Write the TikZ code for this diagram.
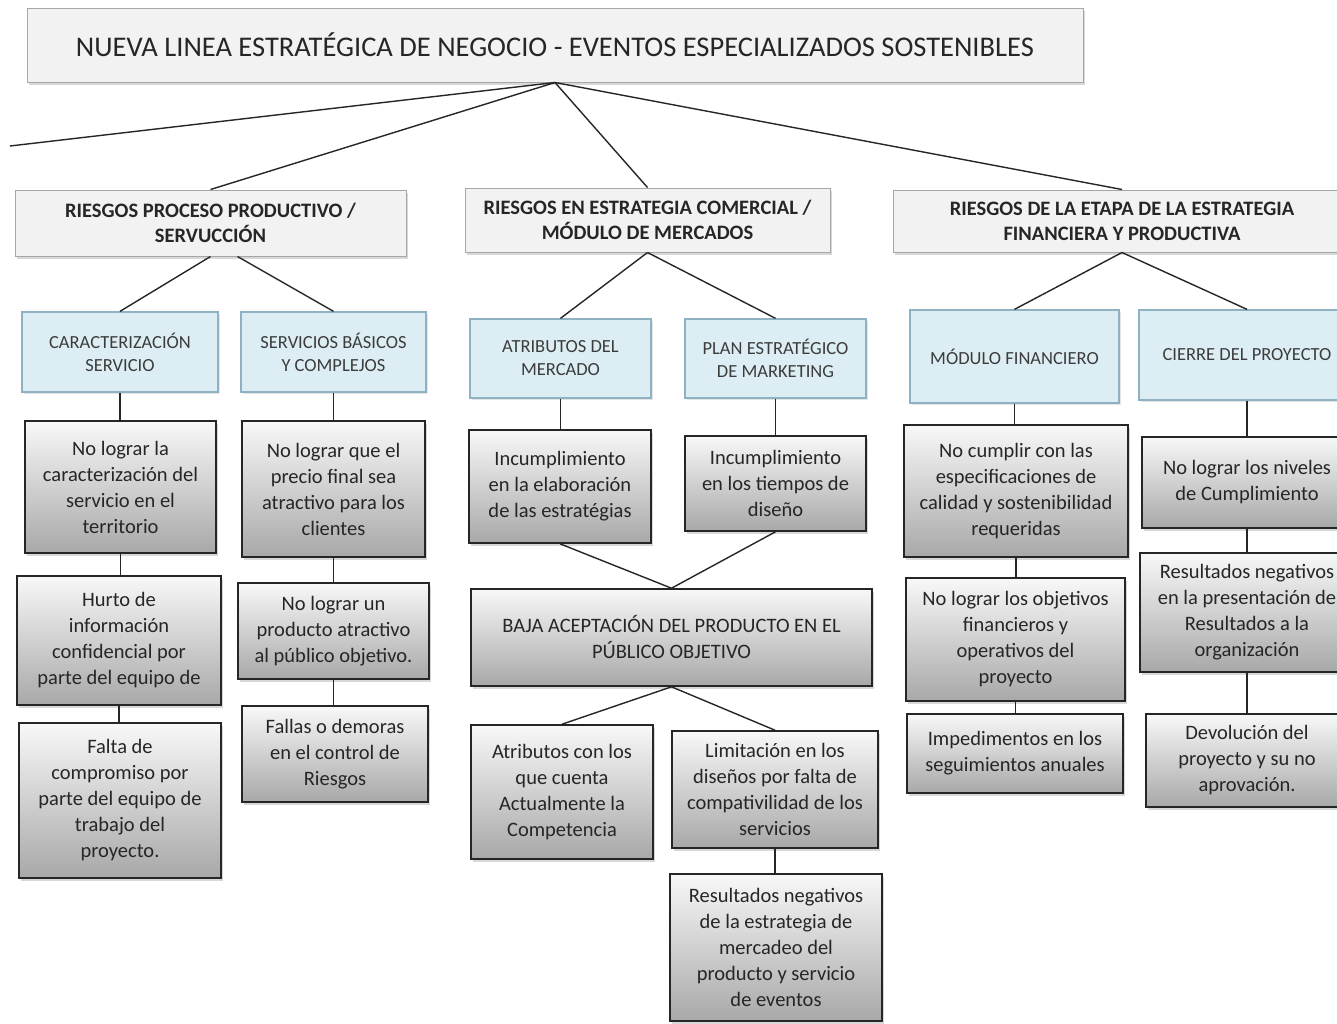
\documentclass[tikz,border=0pt]{standalone}
\usepackage{fontspec}
\setmainfont{Carlito}
\usetikzlibrary{shadows}

\definecolor{hdrfill}{HTML}{F2F2F2}
\definecolor{hdrline}{HTML}{A6A6A6}
\definecolor{blufill}{HTML}{DCEEF4}
\definecolor{bluline}{HTML}{8FB1C4}
\definecolor{grytop}{HTML}{F8F8F8}
\definecolor{grybot}{HTML}{A8A8A8}
\definecolor{ink}{HTML}{262626}
\definecolor{softink}{HTML}{3C3C3C}

% box placed from its corner coordinates: name, style, x1, y1, x2, y2, text
\newcommand{\bx}[7]{%
  \node[#2, minimum width={(#5)-(#3)}, minimum height={(#6)-(#4)}]
    (#1) at ({((#3)+(#5))/2},{((#4)+(#6))/2}) {#7};}

\tikzset{
  basebox/.style={rectangle, inner sep=0pt, align=center, text=ink},
  titlebox/.style={basebox, fill=hdrfill, draw=hdrline, line width=1pt,
    drop shadow={shadow xshift=1.5pt, shadow yshift=-2.5pt, opacity=0.3},
    font=\fontsize{28.5}{32}\selectfont},
  hdrbox/.style={basebox, fill=hdrfill, draw=hdrline, line width=1pt,
    drop shadow={shadow xshift=1.5pt, shadow yshift=-2.5pt, opacity=0.3},
    font=\fontsize{20.5}{25}\selectfont\bfseries},
  blubox/.style={basebox, fill=blufill, draw=bluline, line width=1.3pt,
    drop shadow={shadow xshift=1.5pt, shadow yshift=-2pt, opacity=0.2},
    text=softink, font=\fontsize{18.5}{23}\selectfont},
  grybox/.style={basebox, top color=grytop, bottom color=grybot, draw=ink,
    line width=1.6pt,
    drop shadow={shadow xshift=1.5pt, shadow yshift=-2.5pt, opacity=0.3},
    font=\fontsize{20.5}{26}\selectfont},
  link/.style={draw=ink, line width=1.4pt},
}

\begin{document}
\begin{tikzpicture}[x=1pt, y=-1pt]
\useasboundingbox (0,0) rectangle (1337,1023);
\clip (0,0) rectangle (1337,1023);
\fill[white] (0,0) rectangle (1337,1023);

% ---- boxes ----
\bx{top}{titlebox}{27}{8}{1083}{82}{NUEVA LINEA ESTRATÉGICA DE NEGOCIO - EVENTOS ESPECIALIZADOS SOSTENIBLES}

\bx{L1}{hdrbox}{15}{190}{406}{256}{RIESGOS PROCESO PRODUCTIVO /\\SERVUCCIÓN}
\bx{M1}{hdrbox}{465}{188}{830}{252}{RIESGOS EN ESTRATEGIA COMERCIAL /\\MÓDULO DE MERCADOS}
\bx{R1}{hdrbox}{893}{190}{1351}{252}{RIESGOS DE LA ETAPA DE LA ESTRATEGIA\\FINANCIERA Y PRODUCTIVA}

\bx{B1}{blubox}{22}{312}{218}{392}{CARACTERIZACIÓN\\SERVICIO}
\bx{B2}{blubox}{241}{312}{426}{392}{SERVICIOS BÁSICOS\\Y COMPLEJOS}
\bx{B3}{blubox}{470}{319}{651}{398}{ATRIBUTOS DEL\\MERCADO}
\bx{B4}{blubox}{685}{319}{866}{398}{PLAN ESTRATÉGICO\\DE MARKETING}
\bx{B5}{blubox}{910}{310}{1119}{403}{MÓDULO FINANCIERO}
\bx{B6}{blubox}{1139}{310}{1355}{400}{CIERRE DEL PROYECTO}

\bx{G1}{grybox}{25}{421}{216}{553}{No lograr la\\caracterización del\\servicio en el\\territorio}
\bx{G2}{grybox}{17}{576}{221}{705}{Hurto de\\información\\confidencial por\\parte del equipo de}
\bx{G3}{grybox}{19}{723}{221}{878}{Falta de\\compromiso por\\parte del equipo de\\trabajo del\\proyecto.}

\bx{G4}{grybox}{242}{421}{425}{557}{No lograr que el\\precio final sea\\atractivo para los\\clientes}
\bx{G5}{grybox}{238}{583}{429}{679}{No lograr un\\producto atractivo\\al público objetivo.}
\bx{G6}{grybox}{242}{706}{428}{802}{Fallas o demoras\\en el control de\\Riesgos}

\bx{G7}{grybox}{469}{430}{651}{543}{Incumplimiento\\en la elaboración\\de las estratégias}
\bx{G8}{grybox}{685}{436}{866}{531}{Incumplimiento\\en los tiempos de\\diseño}
\bx{BAJA}{grybox}{471}{589}{872}{686}{BAJA ACEPTACIÓN DEL PRODUCTO EN EL\\PÚBLICO OBJETIVO}
\bx{G9}{grybox}{471}{725}{653}{859}{Atributos con los\\que cuenta\\Actualmente la\\Competencia}
\bx{G10}{grybox}{672}{731}{878}{848}{Limitación en los\\diseños por falta de\\compativilidad de los\\servicios}
\bx{G11}{grybox}{670}{874}{882}{1021}{Resultados negativos\\de la estrategia de\\mercadeo del\\producto y servicio\\de eventos}

\bx{G12}{grybox}{904}{425}{1128}{557}{No cumplir con las\\especificaciones de\\calidad y sostenibilidad\\requeridas}
\bx{G13}{grybox}{906}{578}{1125}{701}{No lograr los objetivos\\financieros y\\operativos del\\proyecto}
\bx{G14}{grybox}{907}{714}{1123}{793}{Impedimentos en los\\seguimientos anuales}

\bx{G15}{grybox}{1142}{437}{1352}{528}{No lograr los niveles\\de Cumplimiento}
\bx{G16}{grybox}{1140}{553}{1354}{672}{Resultados negativos\\en la presentación de\\Resultados a la\\organización}
\bx{G17}{grybox}{1146}{714}{1348}{807}{Devolución del\\proyecto y su no\\aprovación.}

% ---- connectors ----
\coordinate (offleft) at (10,146);
\draw[link] (top.south) -- (offleft);
\draw[link] (top.south) -- (L1.north);
\draw[link] (top.south) -- (M1.north);
\draw[link] (top.south) -- (R1.north);

\draw[link] (L1.south) -- (B1.north);
\draw[link] ([xshift=27pt]L1.south) -- (B2.north);
\draw[link] (M1.south) -- (B3.north);
\draw[link] (M1.south) -- (B4.north);
\draw[link] (R1.south) -- (B5.north);
\draw[link] (R1.south) -- (B6.north);

\draw[link] (B1.south) -- (B1.south |- G1.north);
\draw[link] (G1.south) -- (G1.south |- G2.north);
\draw[link] (G2.south) -- (G2.south |- G3.north);

\draw[link] (B2.south) -- (B2.south |- G4.north);
\draw[link] (G4.south) -- (G4.south |- G5.north);
\draw[link] (G5.south) -- (G5.south |- G6.north);

\draw[link] (B3.south) -- (B3.south |- G7.north);
\draw[link] (B4.south) -- (B4.south |- G8.north);
\draw[link] (G7.south) -- (BAJA.north);
\draw[link] (G8.south) -- (BAJA.north);
\draw[link] (BAJA.south) -- (G9.north);
\draw[link] (BAJA.south) -- (G10.north);
\draw[link] (G10.south) -- (G10.south |- G11.north);

\draw[link] (B5.south) -- (B5.south |- G12.north);
\draw[link] (G12.south) -- (G12.south |- G13.north);
\draw[link] (G13.south) -- (G13.south |- G14.north);

\draw[link] (B6.south) -- (B6.south |- G15.north);
\draw[link] (G15.south) -- (G15.south |- G16.north);
\draw[link] (G16.south) -- (G16.south |- G17.north);
\end{tikzpicture}
\end{document}
